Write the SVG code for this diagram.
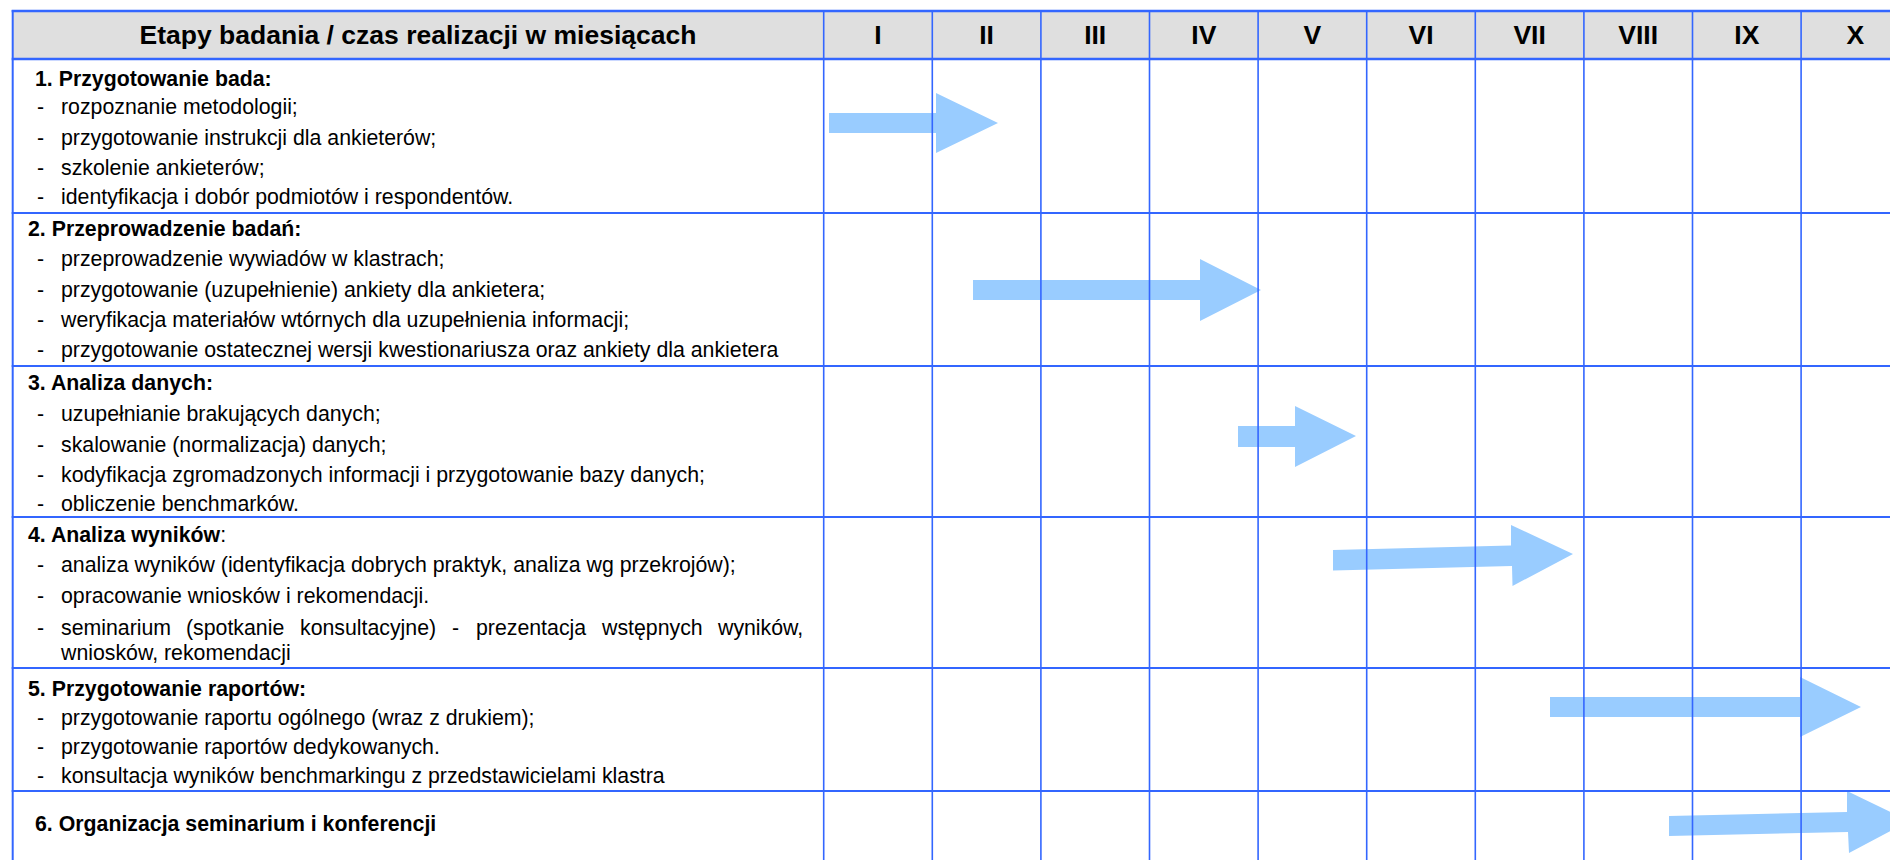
<svg xmlns="http://www.w3.org/2000/svg" width="1890" height="860" viewBox="0 0 1890 860">
<style>
.bg{fill:#ffffff}
.hdr{fill:#dfdfdf}
.gh{stroke:#3366ff;stroke-width:2;fill:none}
.gv{stroke:#3366ff;stroke-width:1.6;fill:none}
.t{font-family:"Liberation Sans",Arial,sans-serif;font-size:21.3px;fill:#000}
.b{font-weight:bold}
.h{font-family:"Liberation Sans",Arial,sans-serif;font-size:26.5px;font-weight:bold;fill:#000;text-anchor:middle}
.arr{fill:#99ccff}
</style>
<rect class="bg" x="0" y="0" width="1890" height="860"/>
<rect class="hdr" x="12.7" y="11" width="1877.3" height="48"/>

<g id="connectors">
<polygon class="arr" points="829,113 936,113 936,93 998,123 936,153 936,133 829,133"/>
<polygon class="arr" points="973,280 1200,280 1200,259 1261,290 1200,321 1200,300 973,300"/>
<polygon class="arr" points="1238,426 1295,426 1295,406 1356,436 1295,467 1295,447 1238,447"/>
<polygon class="arr" points="1333,550 1511,545.5 1511,525 1573,554 1512.5,586 1512,566 1333,570.5"/>
<polygon class="arr" points="1550,697 1800,697 1800,677 1861,707 1800,737 1800,717 1550,717"/>
<polygon class="arr" points="1669,816 1847,812 1847,791 1909,821 1849,853 1848,832 1669,836"/>
</g>

<g id="grid">
<line class="gh" x1="11.7" y1="11" x2="1890" y2="11" style="stroke-width:2.5"/>
<line class="gh" x1="11.7" y1="59" x2="1890" y2="59" style="stroke-width:2.5"/>
<line class="gh" x1="11.7" y1="213" x2="1890" y2="213"/>
<line class="gh" x1="11.7" y1="366" x2="1890" y2="366"/>
<line class="gh" x1="11.7" y1="517" x2="1890" y2="517"/>
<line class="gh" x1="11.7" y1="668" x2="1890" y2="668"/>
<line class="gh" x1="11.7" y1="791" x2="1890" y2="791"/>
<line class="gv" x1="12.7" y1="10" x2="12.7" y2="860" style="stroke-width:2"/>
<line class="gv" x1="823.7" y1="10" x2="823.7" y2="860"/>
<line class="gv" x1="932.3" y1="10" x2="932.3" y2="860"/>
<line class="gv" x1="1040.9" y1="10" x2="1040.9" y2="860"/>
<line class="gv" x1="1149.5" y1="10" x2="1149.5" y2="860"/>
<line class="gv" x1="1258.1" y1="10" x2="1258.1" y2="860"/>
<line class="gv" x1="1366.7" y1="10" x2="1366.7" y2="860"/>
<line class="gv" x1="1475.3" y1="10" x2="1475.3" y2="860"/>
<line class="gv" x1="1583.9" y1="10" x2="1583.9" y2="860"/>
<line class="gv" x1="1692.5" y1="10" x2="1692.5" y2="860"/>
<line class="gv" x1="1801.1" y1="10" x2="1801.1" y2="860"/>
</g>

<g id="header">
<text class="h" x="418" y="44">Etapy badania / czas realizacji w miesiącach</text>
<text class="h" x="878" y="44">I</text>
<text class="h" x="986.6" y="44">II</text>
<text class="h" x="1095.2" y="44">III</text>
<text class="h" x="1203.8" y="44">IV</text>
<text class="h" x="1312.4" y="44">V</text>
<text class="h" x="1421" y="44">VI</text>
<text class="h" x="1529.6" y="44">VII</text>
<text class="h" x="1638.2" y="44">VIII</text>
<text class="h" x="1746.8" y="44">IX</text>
<text class="h" x="1855.4" y="44">X</text>
</g>

<g id="row1">
<text class="t b" x="35" y="86">1. Przygotowanie bada:</text>
<text class="t" x="37" y="114">-</text><text class="t" x="61" y="114">rozpoznanie metodologii;</text>
<text class="t" x="37" y="145">-</text><text class="t" x="61" y="145">przygotowanie instrukcji dla ankieterów;</text>
<text class="t" x="37" y="175">-</text><text class="t" x="61" y="175">szkolenie ankieterów;</text>
<text class="t" x="37" y="204">-</text><text class="t" x="61" y="204">identyfikacja i dobór podmiotów i respondentów.</text>
</g>

<g id="row2">
<text class="t b" x="28" y="236">2. Przeprowadzenie badań:</text>
<text class="t" x="37" y="266">-</text><text class="t" x="61" y="266">przeprowadzenie wywiadów w klastrach;</text>
<text class="t" x="37" y="297">-</text><text class="t" x="61" y="297">przygotowanie (uzupełnienie) ankiety dla ankietera;</text>
<text class="t" x="37" y="327">-</text><text class="t" x="61" y="327">weryfikacja materiałów wtórnych dla uzupełnienia informacji;</text>
<text class="t" x="37" y="357">-</text><text class="t" x="61" y="357">przygotowanie ostatecznej wersji kwestionariusza oraz ankiety dla ankietera</text>
</g>

<g id="row3">
<text class="t b" x="28" y="390">3. Analiza danych:</text>
<text class="t" x="37" y="421">-</text><text class="t" x="61" y="421">uzupełnianie brakujących danych;</text>
<text class="t" x="37" y="452">-</text><text class="t" x="61" y="452">skalowanie (normalizacja) danych;</text>
<text class="t" x="37" y="482">-</text><text class="t" x="61" y="482">kodyfikacja zgromadzonych informacji i przygotowanie bazy danych;</text>
<text class="t" x="37" y="511">-</text><text class="t" x="61" y="511">obliczenie benchmarków.</text>
</g>

<g id="row4">
<text class="t" x="28" y="542"><tspan class="b">4. Analiza wyników</tspan>:</text>
<text class="t" x="37" y="572">-</text><text class="t" x="61" y="572">analiza wyników (identyfikacja dobrych praktyk, analiza wg przekrojów);</text>
<text class="t" x="37" y="603">-</text><text class="t" x="61" y="603">opracowanie wniosków i rekomendacji.</text>
<text class="t" x="37" y="635">-</text><text class="t" y="635"><tspan x="61">seminarium</tspan> <tspan x="186">(spotkanie</tspan> <tspan x="300">konsultacyjne)</tspan> <tspan x="452">-</tspan> <tspan x="476">prezentacja</tspan> <tspan x="602">wstępnych</tspan> <tspan x="718">wyników,</tspan></text>
<text class="t" x="61" y="659.5">wniosków, rekomendacji</text>
</g>

<g id="row5">
<text class="t b" x="28" y="696">5. Przygotowanie raportów:</text>
<text class="t" x="37" y="725">-</text><text class="t" x="61" y="725">przygotowanie raportu ogólnego (wraz z drukiem);</text>
<text class="t" x="37" y="754">-</text><text class="t" x="61" y="754">przygotowanie raportów dedykowanych.</text>
<text class="t" x="37" y="783">-</text><text class="t" x="61" y="783">konsultacja wyników benchmarkingu z przedstawicielami klastra</text>
</g>

<g id="row6">
<text class="t b" x="35" y="831">6. Organizacja seminarium i konferencji</text>
</g>
</svg>
